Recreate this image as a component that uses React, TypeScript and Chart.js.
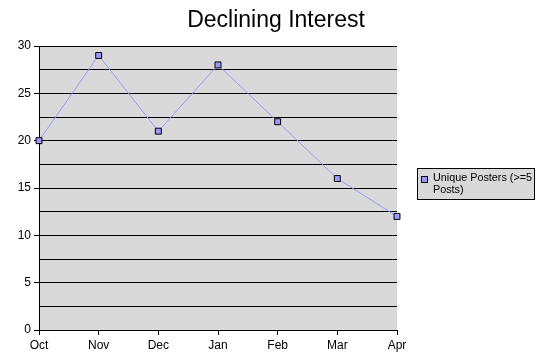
import React, { useEffect, useRef } from "react";
import { Chart, registerables } from "chart.js";

Chart.register(...registerables);

const TITLE = "Declining Interest";
const SERIES_LABEL = "Unique Posters (>=5 Posts)";
const MONTHS = ["Oct", "Nov", "Dec", "Jan", "Feb", "Mar", "Apr"];
const POSTERS = [20, 29, 21, 28, 22, 16, 12];
const Y_MIN = 0;
const Y_MAX = 30;
const Y_STEP = 2.5;
const Y_LABEL_EVERY = 5;

const FONT = "'Liberation Sans', Arial, sans-serif";

const plotBg = {
  id: "plotBg",
  beforeDraw(chart: any) {
    const { ctx, chartArea } = chart;
    if (!chartArea) return;
    ctx.save();
    ctx.fillStyle = "#d9d9d9";
    ctx.fillRect(chartArea.left, chartArea.top, chartArea.right - chartArea.left, chartArea.bottom - chartArea.top);
    ctx.restore();
  },
};

const customTitle = {
  id: "customTitle",
  afterDraw(chart: any) {
    const { ctx } = chart;
    ctx.save();
    ctx.fillStyle = "#000";
    ctx.font = `23px ${FONT}`;
    ctx.textAlign = "center";
    ctx.textBaseline = "alphabetic";
    ctx.fillText(TITLE, 276, 27);
    ctx.restore();
  },
};

const customLegend = {
  id: "customLegend",
  afterDraw(chart: any) {
    const { ctx } = chart;
    const ds = chart.data.datasets[0];
    const x = 417.5, y = 168.5, w = 117, h = 31;
    ctx.save();
    ctx.fillStyle = "#d9d9d9";
    ctx.fillRect(x, y, w, h);
    ctx.strokeStyle = "#000";
    ctx.lineWidth = 1;
    ctx.strokeRect(x, y, w, h);
    ctx.fillStyle = ds.pointBackgroundColor;
    ctx.fillRect(421.5, 176.5, 6, 6);
    ctx.strokeRect(421.5, 176.5, 6, 6);
    ctx.fillStyle = "#000";
    ctx.font = `10.8px ${FONT}`;
    ctx.textBaseline = "middle";
    ctx.textAlign = "left";
    const words = String(ds.label).split(" ");
    const lines: string[] = [];
    let cur = "";
    const maxW = 104;
    for (const wd of words) {
      const test = cur ? cur + " " + wd : wd;
      if (ctx.measureText(test).width > maxW && cur) {
        lines.push(cur);
        cur = wd;
      } else cur = test;
    }
    if (cur) lines.push(cur);
    lines.forEach((ln, i) => ctx.fillText(ln, 433, 178.5 + i * 12));
    ctx.restore();
  },
};

export default function App() {
  const ref = useRef<HTMLCanvasElement>(null);
  useEffect(() => {
    if (!ref.current) return;
    const chart = new Chart(ref.current, {
      type: "line",
      data: {
        labels: MONTHS,
        datasets: [
          {
            label: SERIES_LABEL,
            data: POSTERS,
            borderColor: "#9999ff",
            borderWidth: 1,
            pointStyle: "rect",
            pointRadius: 4.2,
            pointBackgroundColor: "#9999ff",
            pointBorderColor: "#000000",
            pointBorderWidth: 1,
            tension: 0,
            clip: false as any,
          },
        ],
      },
      options: {
        animation: false,
        responsive: false,
        devicePixelRatio: 1,
        layout: { padding: { left: 0, right: 155, top: 46, bottom: 0 } },
        plugins: {
          legend: { display: false },
          tooltip: { enabled: false },
          title: { display: false },
        },
        scales: {
          x: {
            offset: false,
            grid: {
              display: true,
              drawOnChartArea: false,
              drawTicks: true,
              tickLength: 5,
              color: "#000",
            },
            border: { display: true, color: "#000" },
            ticks: {
              color: "#000",
              font: { family: FONT, size: 12 },
              padding: 3,
              maxRotation: 0,
              autoSkip: false,
            },
            afterFit: (s: any) => {
              s.height = 23;
            },
          },
          y: {
            min: Y_MIN,
            max: Y_MAX,
            grid: {
              color: "#000",
              drawTicks: true,
              tickLength: 5,
              tickColor: (ctx: any) =>
                ctx.tick && ctx.tick.value % Y_LABEL_EVERY === 0 ? "#000" : "rgba(0,0,0,0)",
            },
            border: { display: true, color: "#000" },
            ticks: {
              stepSize: Y_STEP,
              color: "#000",
              font: { family: FONT, size: 12 },
              padding: 3,
              callback: (v: any) => (Number(v) % Y_LABEL_EVERY === 0 ? String(v) : ""),
            },
            afterFit: (s: any) => {
              s.width = 39;
            },
          },
        },
      },
      plugins: [plotBg, customTitle, customLegend],
    });
    return () => chart.destroy();
  }, []);
  return (
    <div style={{ position: "absolute", left: 0, top: 0, width: 552, height: 353, background: "#fff" }}>
      <canvas ref={ref} width={552} height={353} style={{ display: "block" }} />
    </div>
  );
}
